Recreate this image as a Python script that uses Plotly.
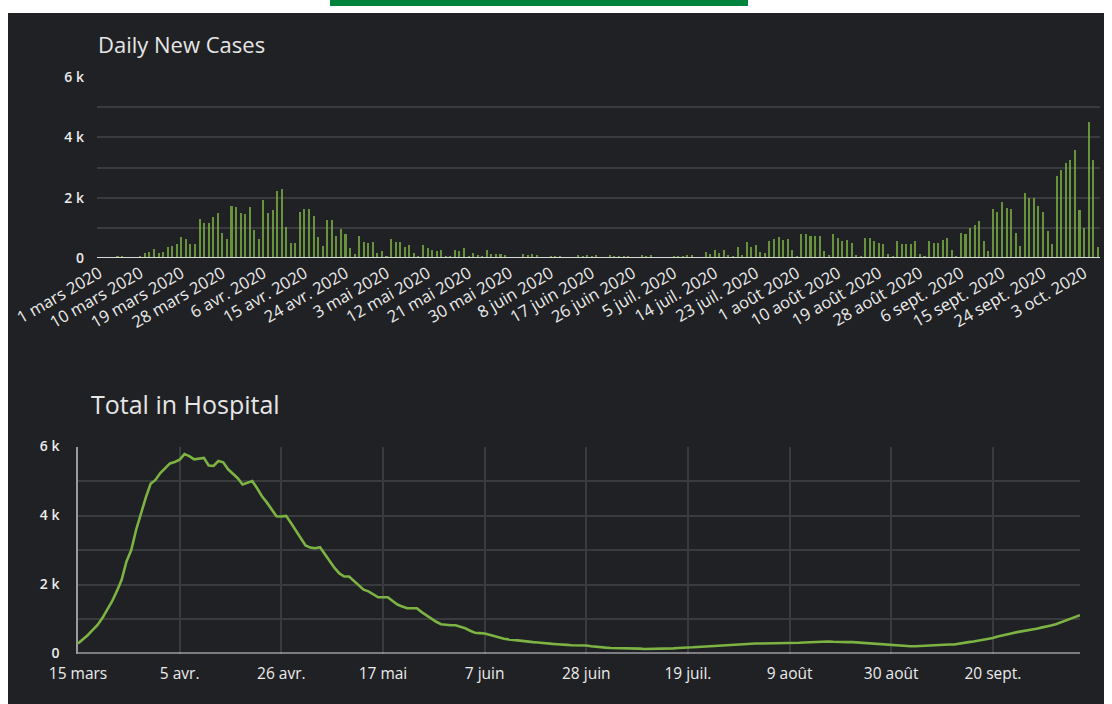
import pandas as pd
import plotly.graph_objects as go

W, H = 1112, 704

# ---------------- data ----------------
cases_start = "2020-03-01"
daily_cases = [
    5, 10, 12, 35, 50, 75, 20, 30, 40, 60,
    150, 205, 300, 160, 205, 350, 390, 480, 690, 635,
    450, 450, 1300, 1165, 1165, 1360, 1500, 840, 635, 1725,
    1675, 1490, 1450, 1675, 925, 635, 1920, 1495, 1590, 2205,
    2300, 1025, 490, 490, 1535, 1630, 1630, 1400, 685, 390,
    1260, 1260, 730, 975, 785, 340, 145, 725, 530, 490,
    530, 180, 240, 80, 620, 530, 530, 380, 430, 180,
    70, 430, 340, 280, 240, 280, 80, 50, 280, 240,
    340, 50, 180, 90, 50, 280, 140, 140, 140, 90,
    40, 40, 40, 140, 90, 140, 90, 30, 30, 80,
    80, 80, 40, 40, 40, 85, 50, 90, 75, 100,
    30, 20, 90, 60, 50, 50, 80, 20, 20, 90,
    50, 90, 30, 30, 30, 20, 60, 50, 80, 90,
    90, 30, 20, 190, 140, 250, 180, 250, 100, 50,
    380, 100, 540, 380, 440, 190, 150, 580, 630, 680,
    590, 630, 280, 80, 780, 780, 730, 720, 720, 240,
    90, 800, 660, 560, 610, 510, 90, 80, 650, 650,
    550, 510, 450, 120, 60, 550, 450, 450, 450, 550,
    120, 60, 550, 510, 510, 610, 650, 250, 80, 840,
    780, 980, 1080, 1230, 550, 220, 1640, 1540, 1870, 1670,
    1640, 840, 410, 2140, 2000, 2000, 1710, 1540, 880, 450,
    2720, 2910, 3150, 3240, 3570, 1580, 980, 4520, 3240, 360,
]
cases_tick_text = [
    "1 mars 2020", "10 mars 2020", "19 mars 2020", "28 mars 2020",
    "6 avr. 2020", "15 avr. 2020", "24 avr. 2020", "3 mai 2020",
    "12 mai 2020", "21 mai 2020", "30 mai 2020", "8 juin 2020",
    "17 juin 2020", "26 juin 2020", "5 juil. 2020", "14 juil. 2020",
    "23 juil. 2020", "1 août 2020", "10 août 2020", "19 août 2020",
    "28 août 2020", "6 sept. 2020", "15 sept. 2020", "24 sept. 2020",
    "3 oct. 2020",
]

hosp_start = "2020-03-15"
hospital = [
    290, 400, 530, 680, 820, 1020, 1250, 1500, 1800, 2130,
    2660, 3000, 3580, 4080, 4520, 4920, 5030, 5230, 5380, 5510,
    5550, 5620, 5780, 5720, 5630, 5640, 5670, 5450, 5440, 5580,
    5540, 5340, 5200, 5080, 4900, 4940, 5000, 4790, 4560, 4380,
    4180, 3980, 3970, 3990, 3780, 3560, 3340, 3130, 3070, 3050,
    3080, 2870, 2670, 2480, 2320, 2230, 2230, 2100, 1970, 1850,
    1800, 1720, 1630, 1630, 1630, 1520, 1420, 1360, 1310, 1310,
    1310, 1200, 1110, 1000, 920, 850, 830, 820, 820, 780,
    730, 660, 600, 590, 580, 540, 500, 460, 430, 410,
    390, 370, 360, 340, 330, 320, 300, 290, 280, 270,
    270, 250, 240, 240, 230, 230, 210, 190, 180, 170,
    160, 160, 160, 160, 150, 140, 140, 130, 130, 130,
    130, 140, 140, 150, 160, 160, 170, 180, 190, 200,
    200, 210, 220, 230, 250, 260, 260, 270, 270, 280,
    290, 290, 290, 290, 300, 300, 300, 310, 310, 310,
    320, 330, 330, 340, 350, 350, 340, 330, 330, 330,
    330, 320, 310, 290, 280, 260, 250, 240, 230, 230,
    220, 220, 210, 210, 220, 230, 230, 240, 240, 250,
    260, 260, 290, 310, 330, 350, 370, 400, 420, 450,
    490, 530, 560, 590, 620, 640, 670, 690, 720, 750,
    770, 810, 850, 900, 960, 1020, 1060, 1110,
]
hosp_tick_text = [
    "15 mars", "5 avr.", "26 avr.", "17 mai", "7 juin",
    "28 juin", "19 juil.", "9 août", "30 août", "20 sept.",
]

y_tick_vals = [0, 2000, 4000, 6000]
y_tick_text = ["0", "2 k", "4 k", "6 k"]
y_minor_vals = [1000, 3000, 5000]

# ---------------- derived ----------------
case_dates = pd.date_range(cases_start, periods=len(daily_cases), freq="D")
case_tick_dates = pd.date_range(cases_start, periods=len(cases_tick_text), freq="9D")
hosp_dates = pd.date_range(hosp_start, periods=len(hospital), freq="D")
hosp_tick_dates = pd.date_range(hosp_start, periods=len(hosp_tick_text), freq="21D")

BG = "#202124"
GRID = "#3a3b3f"
TXT = "#ececec"
GREEN = "#7cb342"
FONT = "Open Sans"

def px(x):
    return x / W

def py(y):
    return (H - y) / H

fig = go.Figure()
fig.add_trace(go.Bar(
    x=case_dates, y=daily_cases,
    width=0.45 * 86400000,
    marker=dict(color="rgba(124,179,66,0.78)", line=dict(width=0)),
    xaxis="x", yaxis="y", showlegend=False,
))
fig.add_trace(go.Scatter(
    x=hosp_dates, y=hospital, mode="lines",
    line=dict(color=GREEN, width=2.6),
    xaxis="x2", yaxis="y2", showlegend=False,
))

half = pd.Timedelta(hours=12)
fig.update_layout(
    template="none",
    width=W, height=H, autosize=False,
    margin=dict(l=0, r=0, t=0, b=0, pad=0),
    paper_bgcolor="white", plot_bgcolor=BG,
    font=dict(family=FONT, color=TXT, size=14),
    bargap=0, showlegend=False,
    xaxis=dict(
        domain=[px(97), px(1100)], anchor="y", type="date", automargin=False,
        range=[case_dates[0] - half, case_dates[-1] + half],
        tickmode="array", tickvals=list(case_tick_dates), ticktext=cases_tick_text,
        tickangle=-30, showgrid=False, zeroline=False, showline=False,
        ticks="", ticklabelstandoff=2, tickfont=dict(size=16.5, color=TXT),
    ),
    yaxis=dict(
        domain=[py(258), py(77)], anchor="x", range=[0, 6000], automargin=False,
        tickmode="array", tickvals=y_tick_vals, ticktext=y_tick_text,
        showgrid=True, gridcolor=GRID, gridwidth=1.5,
        minor=dict(tickvals=y_minor_vals, showgrid=True, gridcolor=GRID, gridwidth=1.5),
        zeroline=False, showline=False, ticks="",
        ticklabelstandoff=12,
        tickfont=dict(size=14, color=TXT, weight=600),
    ),
    xaxis2=dict(
        domain=[px(78), px(1080)], anchor="y2", type="date", automargin=False,
        range=[hosp_dates[0], hosp_dates[-1]],
        tickmode="array", tickvals=list(hosp_tick_dates), ticktext=hosp_tick_text,
        showgrid=True, gridcolor=GRID, gridwidth=1.5,
        zeroline=False, showline=False, ticks="",
        ticklabelstandoff=9,
        tickfont=dict(size=15.5, color=TXT),
    ),
    yaxis2=dict(
        domain=[py(653.5), py(446.5)], anchor="x2", range=[0, 6000], automargin=False,
        tickmode="array", tickvals=y_tick_vals, ticktext=y_tick_text,
        showgrid=True, gridcolor=GRID, gridwidth=1.5,
        minor=dict(tickvals=y_minor_vals, showgrid=True, gridcolor=GRID, gridwidth=1.5),
        zeroline=False, showline=True, linecolor="#9a9a9a", linewidth=1.5,
        ticks="", ticklabelstandoff=14,
        tickfont=dict(size=14, color=TXT, weight=600),
    ),
    shapes=[
        # dark panel
        dict(type="rect", xref="paper", yref="paper", layer="below",
             x0=px(8), x1=px(1104), y0=py(704), y1=py(13),
             fillcolor=BG, line=dict(width=0)),
        # green strip at top
        dict(type="rect", xref="paper", yref="paper", layer="below",
             x0=px(330), x1=px(748), y0=py(6), y1=py(0),
             fillcolor="#00843d", line=dict(width=0)),
        # baselines
        dict(type="line", xref="x domain", yref="y", x0=0, x1=1, y0=0, y1=0,
             line=dict(color="#d9d9d9", width=2)),
        dict(type="line", xref="x2 domain", yref="y2", x0=0, x1=1, y0=0, y1=0,
             line=dict(color="#d9d9d9", width=2)),
    ],
    annotations=[
        dict(text="Daily New Cases", x=px(96), y=py(44), xref="paper", yref="paper",
             xanchor="left", yanchor="middle", showarrow=False,
             font=dict(size=22, color="#e6e6e6", family=FONT)),
        dict(text="Total in Hospital", x=px(89), y=py(404), xref="paper", yref="paper",
             xanchor="left", yanchor="middle", showarrow=False,
             font=dict(size=25, color="#e6e6e6", family=FONT)),
    ],
)

fig.write_html(
    "out.html",
    config={"displayModeBar": False},
    post_script="document.body.style.margin='0';document.body.style.overflow='hidden';",
)
